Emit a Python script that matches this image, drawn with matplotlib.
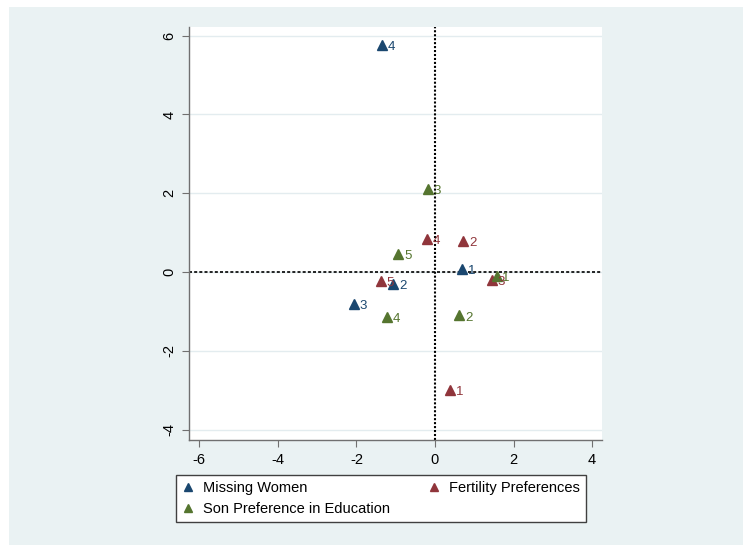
import matplotlib
matplotlib.use("Agg")
import matplotlib.pyplot as plt
from matplotlib.patches import Rectangle

plt.rcParams["font.family"] = ["Liberation Sans", "DejaVu Sans"]
plt.rcParams["axes.unicode_minus"] = False

# ---- data ----
mw_x = [0.70, -1.06, -2.06, -1.35]
mw_y = [0.07, -0.30, -0.81, 5.76]
mw_lab = ["1", "2", "3", "4"]

fp_x = [0.38, 0.72, 1.46, -0.21, -1.38]
fp_y = [-2.98, 0.78, -0.20, 0.83, -0.22]
fp_lab = ["1", "2", "3", "4", "5"]

sp_x = [1.57, 0.62, -0.19, -1.21, -0.93]
sp_y = [-0.10, -1.10, 2.11, -1.13, 0.47]
sp_lab = ["1", "2", "3", "4", "5"]

series_names = ["Missing Women", "Fertility Preferences", "Son Preference in Education"]
colors = ["#1a476f", "#90353b", "#55752f"]
ticks_x = [-6, -4, -2, 0, 2, 4]
ticks_y = [-4, -2, 0, 2, 4, 6]

W, H = 743, 545
fig = plt.figure(figsize=(W / 100, H / 100), dpi=100, facecolor="white")
bg = "#eaf2f3"
fig.patches.append(Rectangle((9 / W, 0), 1 - 9 / W, 1 - 7 / H, transform=fig.transFigure,
                             facecolor=bg, edgecolor="none", zorder=-10))

ax = fig.add_axes([189 / W, (H - 440) / H, 413 / W, 413 / H])
ax.set_facecolor("white")
ax.set_xlim(-6.26, 4.25)
ax.set_ylim(-4.26, 6.22)

for t in ticks_y:
    ax.axhline(t, color="#e3ecef", lw=1.0, zorder=0)

ax.axvline(0, color="black", lw=1.5, dashes=(1.0, 0.9), zorder=1)
ax.axhline(0, color="black", lw=1.2, dashes=(1.8, 1.3), zorder=1)

handles = []
for xs, ys, labs, name, c in [(mw_x, mw_y, mw_lab, series_names[0], colors[0]),
                               (fp_x, fp_y, fp_lab, series_names[1], colors[1]),
                               (sp_x, sp_y, sp_lab, series_names[2], colors[2])]:
    h, = ax.plot(xs, ys, linestyle="none", marker="^", ms=6.5, color=c, mec=c, label=name, zorder=3)
    handles.append(h)
    for x, y, l in zip(xs, ys, labs):
        ax.annotate(l, (x, y), xytext=(4, -1.5), textcoords="offset points",
                    color=c, fontsize=9.5, ha="left", va="center", zorder=4)

for s in ["top", "right"]:
    ax.spines[s].set_visible(False)
for s in ["left", "bottom"]:
    ax.spines[s].set_color("#707070")
    ax.spines[s].set_linewidth(1.0)

ax.set_xticks(ticks_x)
ax.set_yticks(ticks_y)
ax.tick_params(direction="out", length=5, width=0.8, color="#707070", labelsize=10.5, pad=4)
for lbl in ax.get_yticklabels():
    lbl.set_rotation(90)
    lbl.set_va("center")

leg = fig.legend([handles[0], handles[2], handles[1]],
                 [series_names[0], series_names[2], series_names[1]],
                 ncol=2, loc="center", mode="expand",
                 bbox_to_anchor=(176 / W, (H - 524) / H, 410 / W, 51 / H),
                 frameon=True, fancybox=False, framealpha=1, edgecolor="#404040",
                 fontsize=10.5, handlelength=0.8, handletextpad=0.6, markerscale=0.9,
                 borderaxespad=0, labelspacing=0.45, borderpad=0.45)
leg.get_frame().set_linewidth(1.0)

fig.savefig("out.png", dpi=100, facecolor="white")
